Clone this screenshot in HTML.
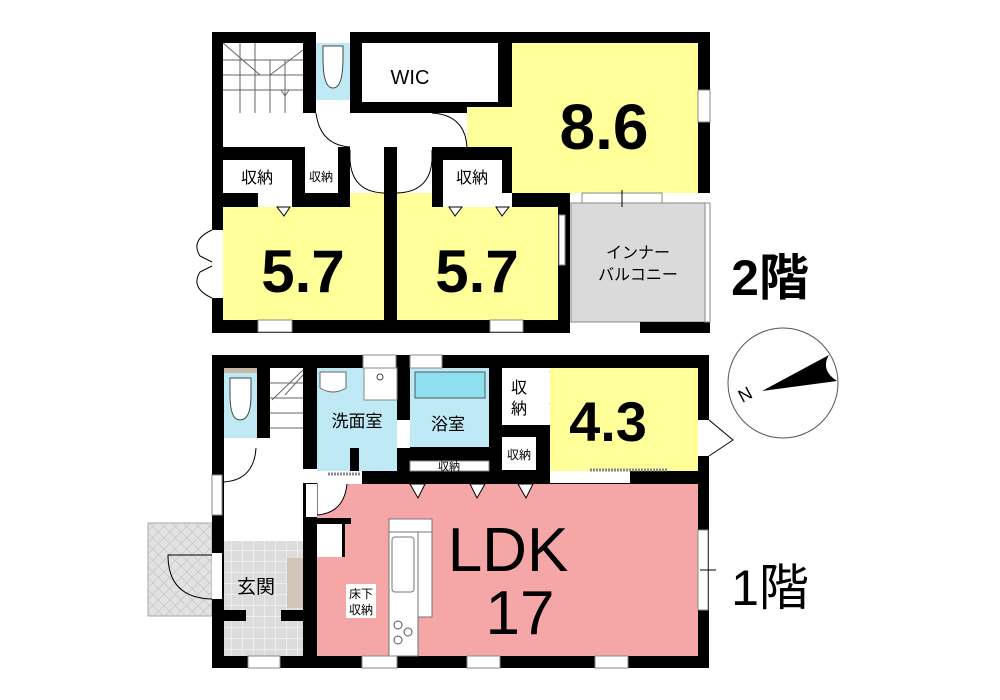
<!DOCTYPE html>
<html><head><meta charset="utf-8"><style>
html,body{margin:0;padding:0;background:#fff;width:1000px;height:700px;overflow:hidden}
svg{display:block}
text{font-family:"Liberation Sans","Noto Sans CJK JP",sans-serif}
</style></head><body>
<svg width="1000" height="700" viewBox="0 0 1000 700" xmlns="http://www.w3.org/2000/svg">
<defs>
<pattern id="hatch" width="8" height="8" patternUnits="userSpaceOnUse" patternTransform="rotate(45)">
<rect width="8" height="8" fill="#e2e2e2"/><path d="M0 0H8M0 0V8" stroke="#bbb" stroke-width="1"/></pattern>
<pattern id="tile" width="11" height="11" patternUnits="userSpaceOnUse">
<rect width="11" height="11" fill="#dcdcdc"/><path d="M0 0H11M0 0V11" stroke="#f2f2f2" stroke-width="1.5"/></pattern>
</defs>

<!-- ===== 2F ===== -->
<rect x="212" y="32" width="498" height="301" fill="#000"/>
<rect x="570" y="193" width="140" height="140" fill="#fff"/>
<rect x="571" y="203" width="134" height="119" fill="#dadada" stroke="#888" stroke-width="1"/>
<rect x="640" y="322" width="70" height="11" fill="#000"/>
<rect x="705" y="203" width="5" height="119" fill="#fff" stroke="#888" stroke-width="1"/>
<rect x="558" y="193" width="12" height="132" fill="#000"/>
<rect x="223" y="43" width="80" height="104" fill="#fff"/>
<rect x="303" y="113" width="205" height="34" fill="#fff"/>
<g stroke="#666" stroke-width="1" fill="none">
<path d="M223 60H303M223 75H303M223 90H303M240 43V113M255 43V113M270 60V113M285 60V113M223 43L260 75M303 50L270 75"/>
<path d="M285 70V95M281 90L285 96L289 90"/>
</g>
<rect x="316" y="32" width="34" height="11" fill="#fff"/>
<rect x="316" y="43" width="34" height="57" fill="#bfeaf5"/>
<rect x="316" y="100" width="34" height="13" fill="#fff"/>
<path d="M323 46H343V58Q343 88 333 88Q323 88 323 58Z" fill="#fff" stroke="#444"/>
<rect x="362" y="43" width="136" height="59" fill="#fff"/>
<rect x="512" y="43" width="186" height="150" fill="#ffff99"/>
<rect x="467" y="107" width="45" height="40" fill="#ffff99"/>
<rect x="698" y="90" width="12" height="32" fill="#fff" stroke="#888" stroke-width="1"/>
<rect x="582" y="193" width="80" height="10" fill="#fff" stroke="#888" stroke-width="1"/>
<path d="M622 190V207" stroke="#000"/>
<path d="M432 113Q465 115 467 147" fill="none" stroke="#000"/>
<path d="M316 113Q320 145 350 147" fill="none" stroke="#000"/>
<rect x="223" y="160" width="69" height="33" fill="#fff"/>
<rect x="305" y="147" width="33" height="46" fill="#fff"/>
<rect x="443" y="160" width="59" height="33" fill="#fff"/>
<!-- 5.7 left -->
<rect x="223" y="207" width="161" height="113" fill="#ffff99"/>
<rect x="350" y="147" width="34" height="60" fill="#ffff99"/>
<rect x="350" y="147" width="34" height="46" fill="#fff"/>
<rect x="258" y="193" width="34" height="14" fill="#fff"/>
<path d="M350 150V160Q352 192 384 193" fill="none" stroke="#000"/>
<!-- 5.7 right -->
<rect x="397" y="207" width="161" height="113" fill="#ffff99"/>
<rect x="397" y="147" width="35" height="60" fill="#ffff99"/>
<rect x="397" y="147" width="35" height="46" fill="#fff"/>
<rect x="443" y="193" width="69" height="14" fill="#fff"/>
<path d="M432 150V160Q430 192 397 193" fill="none" stroke="#000"/>
<rect x="384" y="147" width="13" height="186" fill="#000"/>
<g fill="#fff" stroke="#000"><path d="M277 207L290 207L284 216ZM449 207L462 207L455 216ZM496 207L509 207L502 216Z"/></g>
<rect x="258" y="320" width="34" height="12" fill="#fff" stroke="#888"/>
<rect x="490" y="320" width="33" height="12" fill="#fff" stroke="#888"/>
<rect x="212" y="230" width="11" height="68" fill="#fff"/>
<path d="M212 230Q190 240 200 256L212 262M212 298Q190 288 200 272L212 266" fill="none" stroke="#000"/>
<rect x="559" y="215" width="6" height="50" fill="#fff" stroke="#888"/>
<text x="410" y="84" font-size="20" text-anchor="middle">WIC</text>
<text x="604" y="149" font-size="64" font-weight="bold" text-anchor="middle">8.6</text>
<text x="303" y="292" font-size="60" font-weight="bold" text-anchor="middle">5.7</text>
<text x="477" y="292" font-size="60" font-weight="bold" text-anchor="middle">5.7</text>
<text x="257" y="183" font-size="16" text-anchor="middle">収納</text>
<text x="321" y="181" font-size="12" text-anchor="middle">収納</text>
<text x="472" y="183" font-size="16" text-anchor="middle">収納</text>
<text x="638" y="258" font-size="16" text-anchor="middle">インナー</text>
<text x="638" y="280" font-size="16" text-anchor="middle">バルコニー</text>
<text x="770" y="295" font-size="50" font-weight="bold" text-anchor="middle">2階</text>

<!-- ===== 1F ===== -->
<rect x="148" y="523" width="64" height="93" fill="url(#hatch)" stroke="#aaa"/>
<rect x="212" y="355" width="497" height="313" fill="#000"/>
<rect x="224" y="368" width="33" height="70" fill="#bfeaf5"/>
<rect x="224" y="368" width="33" height="5" fill="#c8b9a8"/>
<path d="M230 378H251V395Q251 420 240 420Q230 420 230 395Z" fill="#fff" stroke="#444"/>
<rect x="270" y="368" width="33" height="80" fill="#fff"/>
<g stroke="#666" fill="none"><path d="M270 383H303M270 398H303M270 413H303M270 428H303M303 370L272 400M303 375L285 395"/></g>
<rect x="224" y="438" width="79" height="93" fill="#fff"/>
<rect x="303" y="469" width="14" height="14" fill="#fff"/>
<rect x="212" y="475" width="10" height="40" fill="#fff" stroke="#888"/>
<path d="M224 482Q254 480 256 448" fill="none" stroke="#000"/>
<rect x="224" y="531" width="79" height="10" fill="#fff"/>
<rect x="224" y="541" width="79" height="115" fill="url(#tile)"/>
<rect x="287" y="558" width="16" height="50" fill="#d2c6b8"/>
<rect x="224" y="610" width="22" height="11" fill="#000"/>
<rect x="281" y="610" width="22" height="11" fill="#000"/>
<rect x="212" y="553" width="10" height="46" fill="#fff"/>
<path d="M212 599Q168 598 168 555H212" fill="none" stroke="#000"/>
<rect x="317" y="368" width="80" height="103" fill="#bfeaf5"/>
<rect x="364" y="368" width="33" height="32" fill="#fff" stroke="#888"/>
<circle cx="380" cy="377" r="3" fill="none" stroke="#444"/>
<path d="M320 372H346V388Q333 396 320 388Z" fill="#fff" stroke="#666"/>
<rect x="350" y="448" width="9" height="23" fill="#000"/>
<rect x="363" y="355" width="33" height="13" fill="#fff" stroke="#888"/>
<rect x="397" y="420" width="13" height="28" fill="#fff"/>
<path d="M410 425L420 432L410 440" fill="#fff" stroke="#000"/>
<rect x="410" y="368" width="79" height="79" fill="#bfeaf5"/>
<rect x="415" y="372" width="70" height="26" fill="#8ee0ee" stroke="#555"/>
<rect x="410" y="355" width="32" height="13" fill="#fff" stroke="#888"/>
<rect x="502" y="368" width="34" height="57" fill="#fff"/>
<rect x="502" y="437" width="34" height="33" fill="#fff"/>
<rect x="410" y="461" width="79" height="10" fill="#fff" stroke="#888"/>
<rect x="536" y="368" width="14" height="57" fill="#fff"/>
<path d="M550 371L555 380L550 383M550 403L555 412L550 416" fill="none" stroke="#000"/>
<rect x="550" y="368" width="148" height="103" fill="#ffff99"/>
<rect x="550" y="471" width="80" height="12" fill="#fff"/>
<path d="M590 470H668" stroke="#888" stroke-width="3" stroke-dasharray="2 1"/>
<rect x="698" y="420" width="11" height="36" fill="#fff"/>
<path d="M709 420L733 440L709 456" fill="none" stroke="#000"/>
<rect x="317" y="484" width="381" height="172" fill="#f5a6a6"/>
<rect x="317" y="471" width="45" height="13" fill="#fff"/>
<path d="M328 474H360" stroke="#888" stroke-width="3" stroke-dasharray="2 1"/>
<path d="M305 484H317V515Q344 513 347 484" fill="#fff" stroke="#000"/>
<rect x="306" y="484" width="11" height="33" fill="#fff"/>
<rect x="317" y="518" width="34" height="6" fill="#000"/>
<rect x="317" y="524" width="28" height="33" fill="#fff"/>
<rect x="342" y="524" width="3" height="33" fill="#000"/>
<rect x="389" y="519" width="43" height="18" fill="#fff" stroke="#777"/>
<rect x="389" y="532" width="29" height="124" fill="#fff" stroke="#777"/>
<rect x="392" y="537" width="22" height="55" rx="3" fill="#fff" stroke="#777"/>
<rect x="418" y="532" width="14" height="85" fill="#fff" stroke="#777"/>
<g fill="none" stroke="#555"><circle cx="398" cy="625" r="4"/><circle cx="408" cy="632" r="4"/><circle cx="398" cy="640" r="4"/></g>
<g fill="#fff" stroke="#000"><path d="M410 484L425 484L418 498ZM470 484L485 484L477 498ZM518 484L533 484L526 498Z"/></g>
<rect x="698" y="530" width="10" height="80" fill="#fff" stroke="#888"/>
<path d="M700 570H716" stroke="#000"/>
<rect x="248" y="656" width="32" height="12" fill="#fff" stroke="#888"/>
<rect x="362" y="656" width="35" height="12" fill="#fff" stroke="#888"/>
<rect x="467" y="656" width="33" height="12" fill="#fff" stroke="#888"/>
<rect x="595" y="656" width="33" height="12" fill="#fff" stroke="#888"/>
<text x="357" y="427" font-size="17" text-anchor="middle">洗面室</text>
<text x="448" y="430" font-size="17" text-anchor="middle">浴室</text>
<text x="519" y="393" font-size="16" text-anchor="middle">収</text>
<text x="519" y="414" font-size="16" text-anchor="middle">納</text>
<text x="519" y="459" font-size="12" text-anchor="middle">収納</text>
<text x="449" y="470" font-size="11" text-anchor="middle">収納</text>
<text x="608" y="441" font-size="56" font-weight="bold" text-anchor="middle">4.3</text>
<text x="508" y="571" font-size="62" text-anchor="middle">LDK</text>
<text x="520" y="634" font-size="62" text-anchor="middle">17</text>
<rect x="346" y="584" width="30" height="34" fill="#fff"/>
<text x="361" y="598" font-size="12" text-anchor="middle">床下</text>
<text x="361" y="614" font-size="12" text-anchor="middle">収納</text>
<text x="256" y="593" font-size="19" text-anchor="middle">玄関</text>
<text x="770" y="605" font-size="50" text-anchor="middle">1階</text>

<circle cx="783" cy="383" r="55" fill="none" stroke="#555" stroke-width="1"/>
<path d="M762 391L829 355Q820 370 837 381Z" fill="#000"/>
<text x="748" y="400" font-size="18" font-family="Liberation Serif,serif" text-anchor="middle" transform="rotate(-28 748 400)">N</text>
</svg>
</body></html>
